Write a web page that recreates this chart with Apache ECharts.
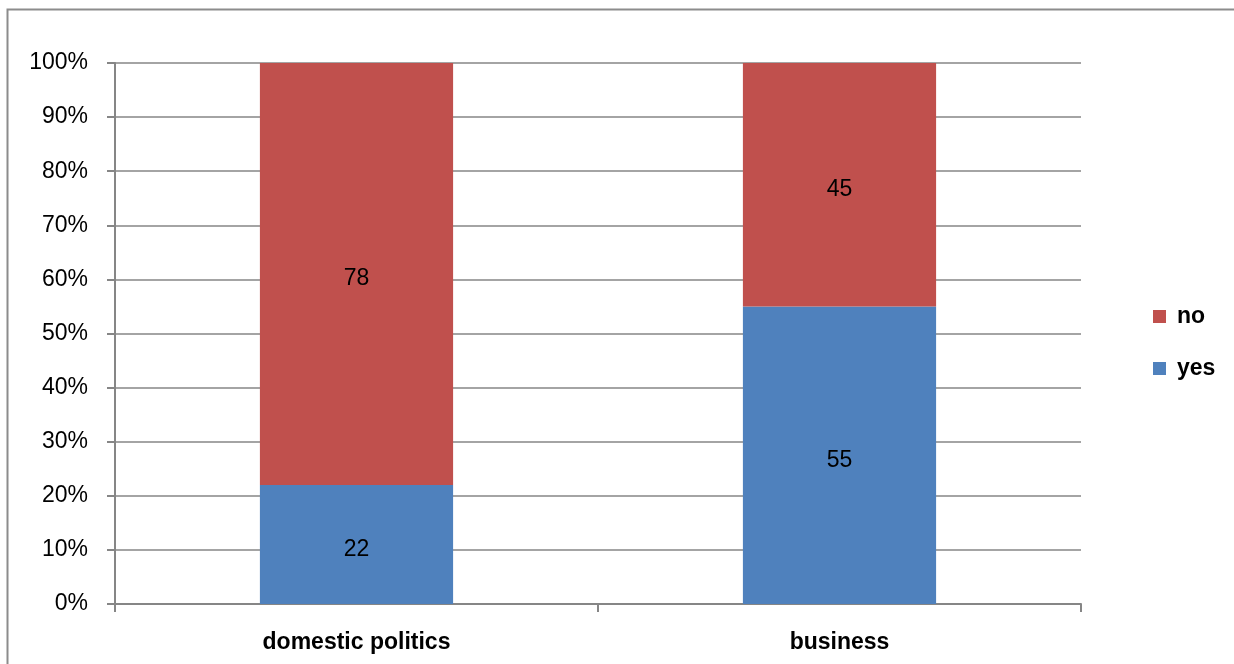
<!DOCTYPE html>
<html>
<head>
<meta charset="utf-8">
<style>
html,body{margin:0;padding:0;background:#fff;}
#chart{width:1234px;height:664px;}
</style>
<script src="https://cdn.jsdelivr.net/npm/echarts@6/dist/echarts.min.js"></script>
</head>
<body>
<div id="chart"></div>
<script>
const categories = ['domestic politics', 'business'];
const yesValues = [22, 55];
const noValues = [78, 45];
const yTicks = { min: 0, max: 100, interval: 10 };

const FONT = 'Liberation Sans';
const FS = 23;
const chart = echarts.init(document.getElementById('chart'), null, { renderer: 'canvas' });
chart.setOption({
  animation: false,
  backgroundColor: '#fff',
  textStyle: { fontFamily: FONT },
  graphic: [{
    type: 'polyline',
    shape: { points: [[7.5, 700], [7.5, 9.5], [1300, 9.5]] },
    style: { fill: 'none', stroke: '#8c8c8c', lineWidth: 2 },
    silent: true, z: -1
  }],
  grid: { left: 115, right: 153, top: 63, bottom: 60, containLabel: false },
  legend: {
    orient: 'vertical',
    left: 1148, top: 297,
    itemWidth: 13, itemHeight: 13, itemGap: 23,
    icon: 'rect',
    data: ['no', 'yes'],
    textStyle: { fontFamily: FONT, fontSize: FS, lineHeight: 24, fontWeight: 'bold', color: '#000', padding: [5, 0, 0, 6] }
  },
  xAxis: {
    type: 'category',
    data: categories,
    axisLine: { lineStyle: { color: '#868686', width: 2 } },
    axisTick: { show: true, length: 8, lineStyle: { color: '#868686', width: 2 } },
    axisLabel: { color: '#000', fontFamily: FONT, fontSize: FS, fontWeight: 'bold', margin: 27 }
  },
  yAxis: {
    type: 'value',
    min: yTicks.min, max: yTicks.max, interval: yTicks.interval,
    axisLine: { show: true, lineStyle: { color: '#868686', width: 2 } },
    axisTick: { show: true, length: 8, lineStyle: { color: '#868686', width: 2 } },
    splitLine: { show: true, lineStyle: { color: '#868686', width: 1.5 } },
    axisLabel: { color: '#000', fontFamily: FONT, fontSize: FS, margin: 27, padding: [5, 0, 0, 0], formatter: '{value}%' }
  },
  series: [
    {
      name: 'yes', type: 'bar', stack: 'total', data: yesValues, barWidth: '40%',
      itemStyle: { color: '#4F81BD' },
      label: { show: true, position: 'inside', offset: [0, 5], color: '#000', fontFamily: FONT, fontSize: FS }
    },
    {
      name: 'no', type: 'bar', stack: 'total', data: noValues, barWidth: '40%',
      itemStyle: { color: '#C0504D' },
      label: { show: true, position: 'inside', offset: [0, 5], color: '#000', fontFamily: FONT, fontSize: FS }
    }
  ]
});
</script>
</body>
</html>
